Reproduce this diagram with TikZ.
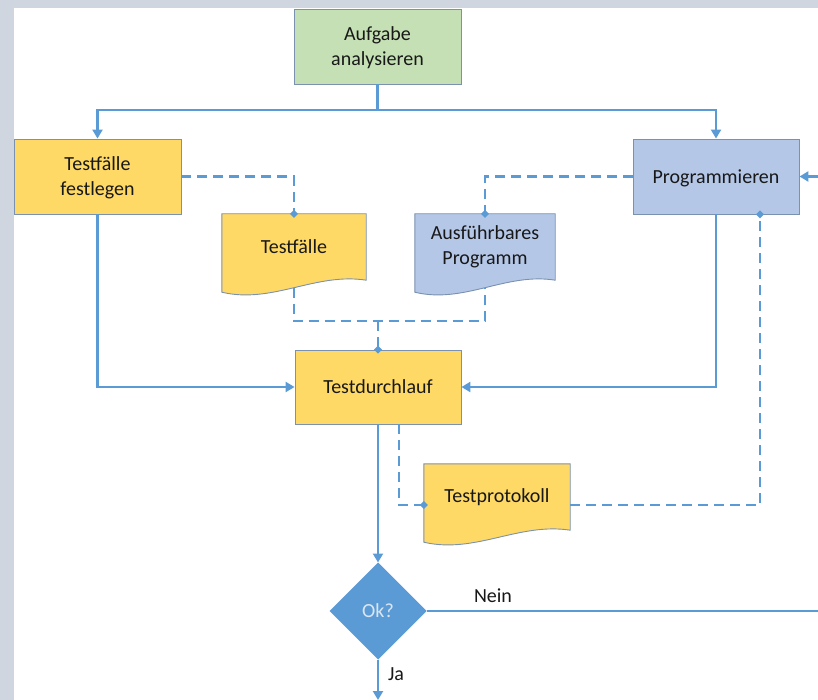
\documentclass[tikz,border=0pt]{standalone}
\usepackage{fontspec}
\setmainfont{Carlito}
\usetikzlibrary{arrows.meta,calc,shapes.geometric}
\definecolor{conn}{RGB}{91,155,213}
\definecolor{yel}{RGB}{255,217,102}
\definecolor{grn}{RGB}{197,224,180}
\definecolor{blu}{RGB}{180,199,231}
\definecolor{bord}{RGB}{122,145,176}
\definecolor{bgc}{RGB}{208,214,224}
\definecolor{txt}{RGB}{24,24,24}
\definecolor{okt}{RGB}{220,230,242}
\pgfdeclarelayer{bg}
\pgfsetlayers{bg,main}
\newcommand{\mydocshape}[2]{%
  \path[docshape, fill=#2] (#1.north west) -- (#1.north east) -- (#1.south east)
    .. controls ($(#1.south east)!0.35!(#1.south west)+(0,-8)$) and ($(#1.south east)!0.65!(#1.south west)+(0,24)$) ..
    coordinate[pos=0.5] (#1-b) ($(#1.south west)+(0,12)$) -- cycle;}
\tikzset{
  txtfont/.style={font=\fontsize{20}{25}\selectfont, text=txt},
  box/.style={draw=bord, line width=0.9pt, minimum width=167pt, minimum height=75pt,
    align=center, inner sep=2pt, txtfont, text depth=-1.5pt},
  docnode/.style={align=center, inner sep=2pt, minimum height=66pt, txtfont},
  docshape/.style={draw=bord, line width=0.9pt},
  flow/.style={draw=conn, line width=2.2pt, -{Triangle[length=9pt,width=10pt]}},
  plainline/.style={draw=conn, line width=2.2pt},
  dashline/.style={draw=conn, line width=2.2pt, dash pattern=on 10pt off 6pt},
  dtip/.style={-{Diamond[length=8pt,width=8pt]}, shorten >=-4pt},
  decision/.style={diamond, fill=conn, minimum width=97pt, minimum height=97pt,
    inner sep=0pt, outer sep=0pt, font=\fontsize{20}{25}\selectfont, text=okt},
  lbl/.style={txtfont, inner sep=1pt}
}
\begin{document}
\begin{tikzpicture}[x=1pt,y=-1pt]
\useasboundingbox (0,0) rectangle (818,700);
\begin{pgfonlayer}{bg}
  \fill[bgc] (0,0) rectangle (818,700);
  \fill[white] (14,8) rectangle (818,700);
\end{pgfonlayer}

% process boxes
\node[box, fill=grn] (ana) at (377.5,46.5) {Aufgabe\\analysieren};
\node[box, fill=yel] (tff) at (97.5,176.5) {Testfälle\\festlegen};
\node[box, fill=blu, minimum width=166pt] (prog) at (716,176.5) {Programmieren};
\node[box, fill=yel, minimum width=166pt, minimum height=74pt] (td) at (378,387) {Testdurchlauf};

% documents
\node[docnode, minimum width=144pt] (tf) at (294,247) {Testfälle};
\node[docnode, minimum width=140pt] (ap) at (485,247) {Ausführbares\\Programm};
\node[docnode, minimum width=146pt] (tp) at (497,497) {Testprotokoll};
\begin{pgfonlayer}{bg}
  \mydocshape{tf}{yel}
  \mydocshape{ap}{blu}
  \mydocshape{tp}{yel}
\end{pgfonlayer}

% decision
\node[decision] (ok) at (378,611) {Ok?};

% labels
\node[lbl] (nein) at (493,596) {Nein};
\node[lbl] (ja) at (396,674) {Ja};

% coordinates
\coordinate (split) at (377.5,110);
\coordinate (rin) at (818,176.5);
\coordinate (rout) at (818,611);
\coordinate (jaend) at (378,700);
\coordinate (j) at (378,321);

% solid connectors
\draw[plainline] (ana.south) -- (split);
\draw[flow] (split) -| (tff.north);
\draw[flow] (split) -| (prog.north);
\draw[flow] (tff.south) |- (td.west);
\draw[flow] (prog.south) |- (td.east);
\draw[flow] (rin) -- (prog.east);
\draw[flow] (td.south) -- (ok.north);
\draw[plainline] (ok.east) -- (rout);
\draw[flow] (ok.south) -- (jaend);

% dashed connectors
\draw[dashline, dtip] (tff.east) -| (tf.north);
\draw[dashline, dtip] (prog.west) -| (ap.north);
\draw[dashline] (tf-b) |- (j) -| (ap-b);
\draw[dashline, dtip] (j) -- (td.north);
\draw[dashline, dtip] ([xshift=21pt]td.south) |- ([yshift=-8pt]tp.west);
\draw[dashline, dtip] ([yshift=-8pt]tp.east) -| ([xshift=44pt]prog.south);
\end{tikzpicture}
\end{document}
